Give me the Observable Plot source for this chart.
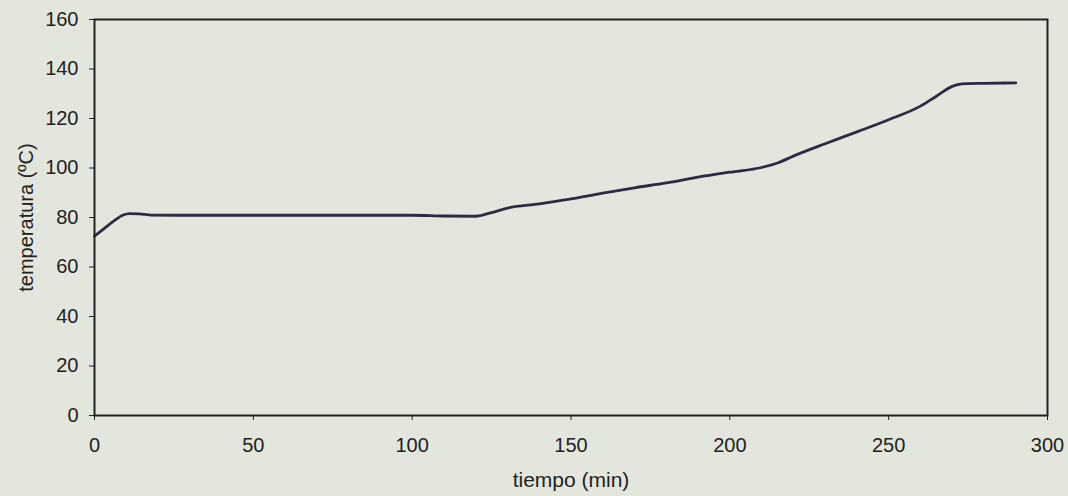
<!DOCTYPE html>
<html>
<head>
<meta charset="utf-8">
<script src="https://cdn.jsdelivr.net/npm/d3@7"></script>
<script src="https://cdn.jsdelivr.net/npm/@observablehq/plot@0.6"></script>
<style>
  html, body { margin: 0; padding: 0; background: #e3e6dc; }
  #chart svg { display: block; }
</style>
</head>
<body>
<div id="chart"></div>
<script>
const tiempo = [0, 3, 6, 9, 11, 14, 18, 30, 50, 70, 90, 100, 110, 120, 125, 130, 140, 150, 160, 170, 180, 190, 200, 210, 215, 220, 230, 240, 250, 260, 265, 270, 273, 280, 290];
const temperatura = [72.5, 75.5, 78.5, 81, 81.6, 81.5, 81, 80.9, 80.9, 80.9, 80.9, 80.9, 80.6, 80.5, 82, 83.8, 85.5, 87.5, 89.8, 92, 94, 96.3, 98.3, 100.2, 102, 104.8, 109.8, 114.6, 119.5, 125, 129, 133, 134, 134.2, 134.4];
const xTicks = [0, 50, 100, 150, 200, 250, 300];
const yTicks = [0, 20, 40, 60, 80, 100, 120, 140, 160];

const data = tiempo.map((t, i) => ({t, v: temperatura[i]}));

const chart = Plot.plot({
  width: 1068,
  height: 496,
  marginLeft: 94,
  marginRight: 21,
  marginTop: 19,
  marginBottom: 81,
  style: {background: "#e3e6dc", fontFamily: "'Liberation Sans', Arial, sans-serif", fontSize: "20px", color: "#222"},
  x: {domain: [0, 300], ticks: xTicks, tickSize: 5, tickPadding: 17, label: "tiempo (min)", labelAnchor: "center", labelOffset: 71, labelArrow: "none"},
  y: {domain: [0, 160], ticks: yTicks, tickSize: 5, tickPadding: 11, label: "temperatura (ºC)", labelAnchor: "center", labelOffset: 76, labelArrow: "none"},
  marks: [
    Plot.line(data, {x: "t", y: "v", stroke: "#2e2a44", strokeWidth: 2.8, curve: "monotone-x"}),
    Plot.frame({stroke: "#222", strokeWidth: 2})
  ]
});
chart.querySelectorAll("[aria-label='x-axis label'] text").forEach(t => t.style.fontSize = "21px");
document.getElementById("chart").append(chart);
</script>
</body>
</html>
